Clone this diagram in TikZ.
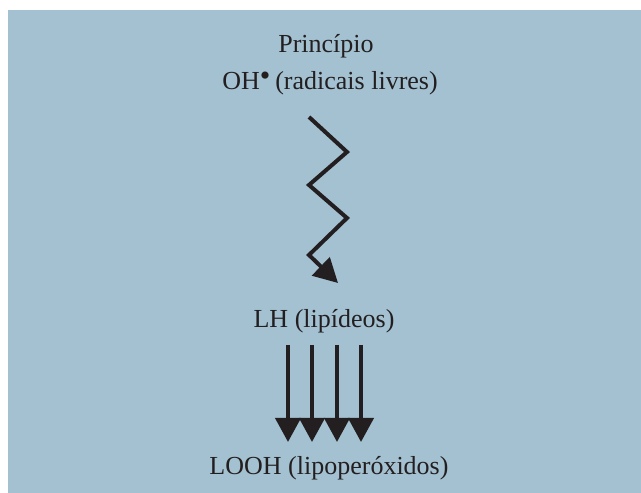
\documentclass[tikz,border=0pt]{standalone}
\usepackage{fontspec}
\setmainfont{Liberation Serif}
\usetikzlibrary{arrows.meta}
\definecolor{painel}{RGB}{163,193,209}
\definecolor{tinta}{RGB}{35,31,32}

\begin{document}
\begin{tikzpicture}[x=1pt,y=1pt,
  rotulo/.style={anchor=base,inner sep=0pt,text=tinta,font=\fontsize{26}{31}\selectfont},
  seta/.style={draw=tinta,line width=4pt,-{Triangle[length=24pt,width=25pt]}}]
\useasboundingbox (0,0) rectangle (641,493);
\fill[painel] (8,0) rectangle (641,483);

\node[rotulo] (principio) at (326,440) {Princípio};
\node[rotulo] (radicais) at (330,403) {OH\raisebox{4pt}{\fontsize{30}{30}\selectfont\textbullet}\hspace{5pt}(radicais livres)};
\node[rotulo] (lipideos) at (324,165) {LH (lipídeos)};
\node[rotulo] (looh) at (329,18) {LOOH (lipoperóxidos)};

% zigue-zague
\coordinate (z0) at (309,376);
\coordinate (z5) at (338,210);
\draw[seta,line join=miter] (z0) -- ++(38,-35) -- ++(-38,-33) -- ++(38,-33) -- ++(-38,-37) -- (z5);

% setas retas
\foreach \x [count=\n] in {288,312,337,361} {
  \coordinate (a\n) at (\x,148);
  \coordinate (b\n) at (\x,51);
  \draw[seta] (a\n) -- (b\n);
}

\end{tikzpicture}
\end{document}
